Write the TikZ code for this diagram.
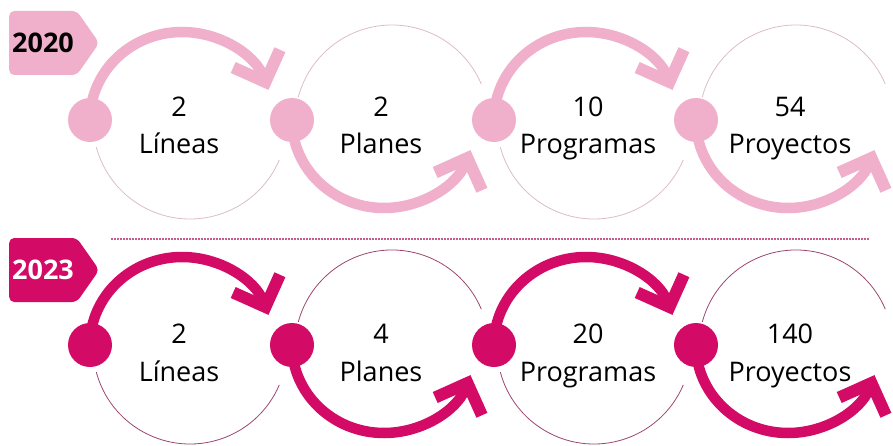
\documentclass[tikz,border=0pt]{standalone}
\usepackage{fontspec}
\setmainfont{Open Sans}
\usepackage{xcolor}
\usetikzlibrary{calc, arrows.meta, positioning, shapes.symbols}
\definecolor{pinkA}{HTML}{F0B0CB}
\definecolor{pinkB}{HTML}{D40A67}
\definecolor{ringA}{HTML}{DCBCC8}
\definecolor{ringB}{HTML}{9C4470}
\definecolor{sepcol}{HTML}{C95A8C}

\begin{document}
\begin{tikzpicture}[x=1pt, y=1pt]
    % Styles
    \tikzstyle{dotA} = [circle, fill=pinkA, minimum size=44pt, inner sep=0pt]
    \tikzstyle{dotB} = [circle, fill=pinkB, minimum size=44pt, inner sep=0pt]
    \tikzstyle{flowA} = [draw=pinkA, line width=10.5pt, -{Straight Barb[length=25pt, width=50pt, line width=12pt, sharp]}]
    \tikzstyle{flowB} = [draw=pinkB, line width=10.5pt, -{Straight Barb[length=25pt, width=50pt, line width=12pt, sharp]}]
    \tikzstyle{ringA} = [draw=ringA, line width=0.8pt]
    \tikzstyle{ringB} = [draw=ringB, line width=0.8pt]
    \tikzstyle{figure} = [anchor=base, inner sep=0pt, font=\fontsize{27}{30}\selectfont]
    \tikzstyle{yeartag} = [signal, signal to=east, signal pointer angle=110, rounded corners=5pt, minimum height=64pt, inner xsep=3pt, font=\fontsize{27}{30}\selectfont\bfseries]
    \useasboundingbox (0,0) rectangle (893,445);
    % Year tags
    \node[yeartag, fill=pinkA, text=black, anchor=west] (y2020) at (9,402) {2020};
    \node[yeartag, fill=pinkB, text=white, anchor=west] (y2023) at (9,175) {2023};
    % Dots 2020
    \node[dotA] (a1) at (90,325) {};
    \node[dotA] (a2) at (292,325) {};
    \node[dotA] (a3) at (494,325) {};
    \node[dotA] (a4) at (696,325) {};
    % Dots 2023
    \node[dotB] (b1) at (90,100) {};
    \node[dotB] (b2) at (292,100) {};
    \node[dotB] (b3) at (494,100) {};
    \node[dotB] (b4) at (696,100) {};
    % Figures 2020
    \node[figure] (na1) at ($(a1)+(89,3)$) {2};
    \node[figure] (wa1) at ($(a1)+(89,-34)$) {Líneas};
    \node[figure] (na2) at ($(a2)+(89,3)$) {2};
    \node[figure] (wa2) at ($(a2)+(89,-34)$) {Planes};
    \node[figure] (na3) at ($(a3)+(94,3)$) {10};
    \node[figure] (wa3) at ($(a3)+(94,-34)$) {Programas};
    \node[figure] (na4) at ($(a4)+(94,3)$) {54};
    \node[figure] (wa4) at ($(a4)+(94,-34)$) {Proyectos};
    % Figures 2023
    \node[figure] (nb1) at ($(b1)+(89,2)$) {2};
    \node[figure] (wb1) at ($(b1)+(89,-36)$) {Líneas};
    \node[figure] (nb2) at ($(b2)+(89,2)$) {4};
    \node[figure] (wb2) at ($(b2)+(89,-36)$) {Planes};
    \node[figure] (nb3) at ($(b3)+(94,2)$) {20};
    \node[figure] (wb3) at ($(b3)+(94,-36)$) {Programas};
    \node[figure] (nb4) at ($(b4)+(94,2)$) {140};
    \node[figure] (wb4) at ($(b4)+(94,-36)$) {Proyectos};
    % Thin rings
    \draw[ringA] ($(a1)+(100,-2)$) ++(195:97) arc[start angle=195, end angle=337, radius=97];
    \draw[ringA] ($(a2)+(100,-2)$) ++(23:97) arc[start angle=23, end angle=165, radius=97];
    \draw[ringA] ($(a3)+(100,-2)$) ++(195:97) arc[start angle=195, end angle=337, radius=97];
    \draw[ringA] ($(a4)+(100,-2)$) ++(23:97) arc[start angle=23, end angle=165, radius=97];
    \draw[ringB] ($(b1)+(100,-2)$) ++(195:97) arc[start angle=195, end angle=337, radius=97];
    \draw[ringB] ($(b2)+(100,-2)$) ++(23:97) arc[start angle=23, end angle=165, radius=97];
    \draw[ringB] ($(b3)+(100,-2)$) ++(195:97) arc[start angle=195, end angle=337, radius=97];
    \draw[ringB] ($(b4)+(100,-2)$) ++(23:97) arc[start angle=23, end angle=165, radius=97];
    % Connections
    \draw[flowA] (a1.center) arc[start angle=180, end angle=20, x radius=92, y radius=88];
    \draw[flowA] (a2.center) arc[start angle=180, end angle=340, x radius=92, y radius=88];
    \draw[flowA] (a3.center) arc[start angle=180, end angle=20, x radius=92, y radius=88];
    \draw[flowA] (a4.center) arc[start angle=180, end angle=340, x radius=92, y radius=88];
    \draw[flowB] (b1.center) arc[start angle=180, end angle=20, x radius=92, y radius=88];
    \draw[flowB] (b2.center) arc[start angle=180, end angle=340, x radius=92, y radius=88];
    \draw[flowB] (b3.center) arc[start angle=180, end angle=20, x radius=92, y radius=88];
    \draw[flowB] (b4.center) arc[start angle=180, end angle=340, x radius=92, y radius=88];
    % Separator
    \coordinate (sepL) at (111,206);
    \coordinate (sepR) at (870,206);
    \draw[sepcol, line width=1.5pt, dash pattern=on 1.5pt off 1.5pt] (sepL) -- (sepR);
\end{tikzpicture}
\end{document}
